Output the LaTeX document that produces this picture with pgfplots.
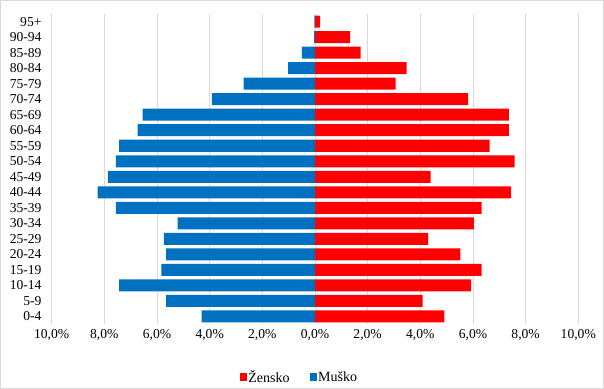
\documentclass[border=0pt]{standalone}
\usepackage{pgfplots}
\pgfplotsset{compat=1.18}
\usepackage{fontspec}
\setmainfont{Liberation Serif}
\definecolor{zred}{HTML}{FF0000}
\definecolor{mblue}{HTML}{0070C0}
\definecolor{gridc}{HTML}{D9D9D9}
\pgfplotstableread{
y male female
0 -4.31 4.91
1 -5.65 4.09
2 -7.44 5.93
3 -5.83 6.33
4 -5.65 5.52
5 -5.74 4.30
6 -5.22 6.03
7 -7.56 6.33
8 -8.26 7.45
9 -7.87 4.39
10 -7.56 7.58
11 -7.44 6.63
12 -6.74 7.36
13 -6.55 7.36
14 -3.92 5.82
15 -2.71 3.06
16 -1.02 3.48
17 -0.50 1.73
18 -0.03 1.33
19 -0.02 0.19
}\pyr
\begin{document}
\begin{tikzpicture}
\useasboundingbox (-51.7bp,-65bp) rectangle (552.3bp,324bp);
\draw[gridc, line width=0.8bp] (-51.2bp,-64.5bp) rectangle (551.8bp,323.5bp);
\begin{axis}[
  at={(0,0)}, anchor=south west, scale only axis,
  width=526.6bp, height=310bp,
  xmin=-10, xmax=10, ymin=-0.5, ymax=19.5,
  xbar, bar width=12bp, bar shift=0pt,
  axis line style={draw=none},
  major tick length=0pt,
  xmajorgrids, grid style={gridc, line width=0.8bp},
  xtick={-10,-8,-6,-4,-2,0,2,4,6,8,10},
  xticklabels={{10,0\%},{8,0\%},{6,0\%},{4,0\%},{2,0\%},{0,0\%},{2,0\%},{4,0\%},{6,0\%},{8,0\%},{10,0\%}},
  ytick={0,...,19},
  yticklabels={0-4,5-9,10-14,15-19,20-24,25-29,30-34,35-39,40-44,45-49,50-54,55-59,60-64,65-69,70-74,75-79,80-84,85-89,90-94,95+},
  ticklabel style={font=\fontsize{13.6bp}{16bp}\selectfont},
  yticklabel style={anchor=east, inner sep=0pt, xshift=-10bp},
  xticklabel style={anchor=north, inner sep=0pt, yshift=-5bp},
  legend columns=2,
  legend style={draw=none, fill=none, at={(0.4696,-0.171)}, anchor=center,
    font=\fontsize{14bp}{16bp}\selectfont,
    nodes={inner sep=1bp},
    /tikz/every even column/.append style={column sep=19bp}},
  legend image code/.code={\fill[#1] (0bp,-3.75bp) rectangle (7.5bp,3.75bp);},
]
\addplot[fill=zred, draw=none] table[x=female, y=y] {\pyr};
\addlegendentry{Žensko}
\addplot[fill=mblue, draw=none] table[x=male, y=y] {\pyr};
\addlegendentry{Muško}
\end{axis}
\end{tikzpicture}
\end{document}
